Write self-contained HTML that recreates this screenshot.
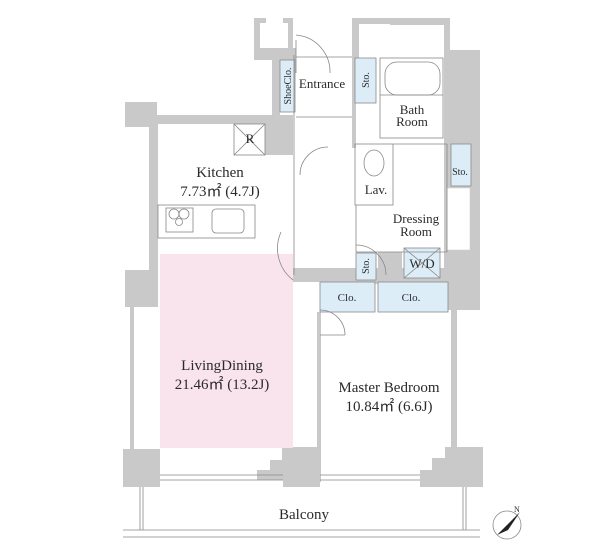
<!DOCTYPE html>
<html><head><meta charset="utf-8"><style>
html,body{margin:0;padding:0;background:#fff;}
svg{display:block;}
text{font-family:"Liberation Serif",serif;fill:#2a2a2a;}
</style></head><body>
<svg width="600" height="557" viewBox="0 0 600 557" xmlns="http://www.w3.org/2000/svg">
<g fill="#c9c9c9" stroke="none">
<rect x="254" y="18" width="6" height="33"/>
<rect x="254" y="18" width="12" height="5"/>
<rect x="283" y="18" width="10" height="5"/>
<rect x="288" y="18" width="5" height="40"/>
<rect x="254" y="48" width="42" height="12"/>
<rect x="272" y="48" width="8" height="75"/>
<rect x="125" y="102" width="32" height="25"/>
<rect x="125" y="115" width="150" height="9"/>
<rect x="149" y="115" width="9" height="155"/>
<rect x="265" y="115" width="28" height="40"/>
<rect x="125" y="270" width="33" height="37"/>
<rect x="130" y="300" width="4" height="150"/>
<rect x="123" y="449" width="37" height="38"/>
<polygon points="282,447 320,447 320,487 283,487 283,480 257,480 257,470 270,470 270,460 282,460"/>
<rect x="317" y="312" width="4" height="170"/>
<rect x="352" y="18" width="7" height="40"/>
<rect x="352" y="18" width="40" height="6"/>
<rect x="390" y="18" width="60" height="7"/>
<rect x="444" y="18" width="6" height="35"/>
<rect x="444" y="50" width="36" height="250"/>
<rect x="352" y="58" width="4" height="90"/>
<rect x="440" y="300" width="40" height="10"/>
<rect x="451" y="300" width="6" height="150"/>
<polygon points="445,447 483,447 483,487 420,487 420,470 432,470 432,458 445,458"/>
<rect x="350" y="280" width="100" height="4"/>
<rect x="293" y="268" width="160" height="14"/>
<rect x="378" y="252" width="24" height="16"/>
</g>
<rect x="447" y="188" width="23" height="62" fill="#fff" stroke="#ccc" stroke-width="0.5"/>
<rect x="447" y="144" width="3" height="40" fill="#c9c9c9"/>
<rect x="160" y="254" width="133" height="194" fill="#f9e4ee"/>
<g fill="#dcedf8" stroke="#8a8a8a" stroke-width="0.8">
<rect x="280" y="60" width="15" height="52"/>
<rect x="355" y="58" width="21" height="45"/>
<rect x="451" y="144" width="20" height="42"/>
<rect x="356" y="253" width="20" height="27"/>
<rect x="404" y="248" width="36" height="30"/>
<rect x="320" y="282" width="55" height="30"/>
<rect x="378" y="282" width="70" height="30"/>
</g>
<g fill="none" stroke="#888" stroke-width="0.8">
<line x1="294" y1="55" x2="294" y2="275"/>
<line x1="296" y1="117" x2="352" y2="117"/>
<line x1="296" y1="57" x2="352" y2="57"/>
<rect x="380" y="58" width="63" height="80"/>
<rect x="385" y="62" width="55" height="33" rx="12"/>
<line x1="380" y1="95" x2="443" y2="95"/>
<rect x="355" y="144" width="38" height="61"/>
<line x1="393" y1="144" x2="447" y2="144"/>
<line x1="447" y1="144" x2="447" y2="252"/>
<line x1="356" y1="205" x2="356" y2="252"/>
<line x1="356" y1="252" x2="447" y2="252"/>
<rect x="234" y="124" width="31" height="31"/>
<line x1="234" y1="124" x2="265" y2="155"/><line x1="265" y1="124" x2="234" y2="155"/>
<rect x="158" y="205" width="97" height="33"/>
<rect x="166" y="208" width="27" height="24"/>
<circle cx="174" cy="214" r="5"/><circle cx="184" cy="214" r="5"/><circle cx="179" cy="222" r="3.5"/>
<rect x="212" y="209" width="32" height="24" rx="4"/>
<line x1="404" y1="248" x2="440" y2="278"/><line x1="440" y1="248" x2="404" y2="278"/>
<path d="M293,280 A40,40 0 0 1 281,232"/>
<path d="M300,175 A28,28 0 0 1 328,147"/>
<path d="M296,35 A37,37 0 0 1 330,73"/>
<line x1="296" y1="40" x2="296" y2="73"/>
<path d="M356,245 A30,30 0 0 1 386,275"/>
<path d="M320,310 A25,25 0 0 1 345,335"/>
<line x1="320" y1="335" x2="345" y2="335"/>
<ellipse cx="374" cy="163" rx="10" ry="13"/>
<line x1="160" y1="475" x2="283" y2="475"/><line x1="160" y1="480" x2="283" y2="480"/>
<line x1="320" y1="475" x2="420" y2="475"/><line x1="320" y1="480" x2="420" y2="480"/>
<line x1="140" y1="487" x2="140" y2="530"/><line x1="143" y1="487" x2="143" y2="530"/>
<line x1="463" y1="487" x2="463" y2="530"/><line x1="466" y1="487" x2="466" y2="530"/>
<line x1="123" y1="530" x2="480" y2="530"/><line x1="123" y1="537" x2="480" y2="537"/>
<circle cx="507" cy="525" r="14"/>
</g>
<polygon points="497,535 520,512 508,530" fill="#222"/>
<text x="514" y="512" font-size="8">N</text>
<g font-size="15" text-anchor="middle">
<text x="220" y="177">Kitchen</text>
<text x="220" y="196">7.73㎡ (4.7J)</text>
<text x="222" y="370">LivingDining</text>
<text x="222" y="389">21.46㎡ (13.2J)</text>
<text x="389" y="392">Master Bedroom</text>
<text x="389" y="411">10.84㎡ (6.6J)</text>
<text x="304" y="519">Balcony</text>
</g>
<g font-size="13" text-anchor="middle">
<text x="322" y="88">Entrance</text>
<text x="412" y="114">Bath</text>
<text x="412" y="126">Room</text>
<text x="376" y="194">Lav.</text>
<text x="416" y="223">Dressing</text>
<text x="416" y="236">Room</text>
<text x="422" y="268">W/D</text>
<text x="347" y="301" font-size="11">Clo.</text>
<text x="411" y="301" font-size="11">Clo.</text>
<text x="250" y="143">R</text>
<text x="460" y="175" font-size="10">Sto.</text>
</g>
<g font-size="10" text-anchor="middle">
<text transform="translate(291,86) rotate(-90)">ShoeClo.</text>
<text transform="translate(369,80) rotate(-90)">Sto.</text>
<text transform="translate(369,266) rotate(-90)">Sto.</text>
</g>
</svg>
</body></html>
